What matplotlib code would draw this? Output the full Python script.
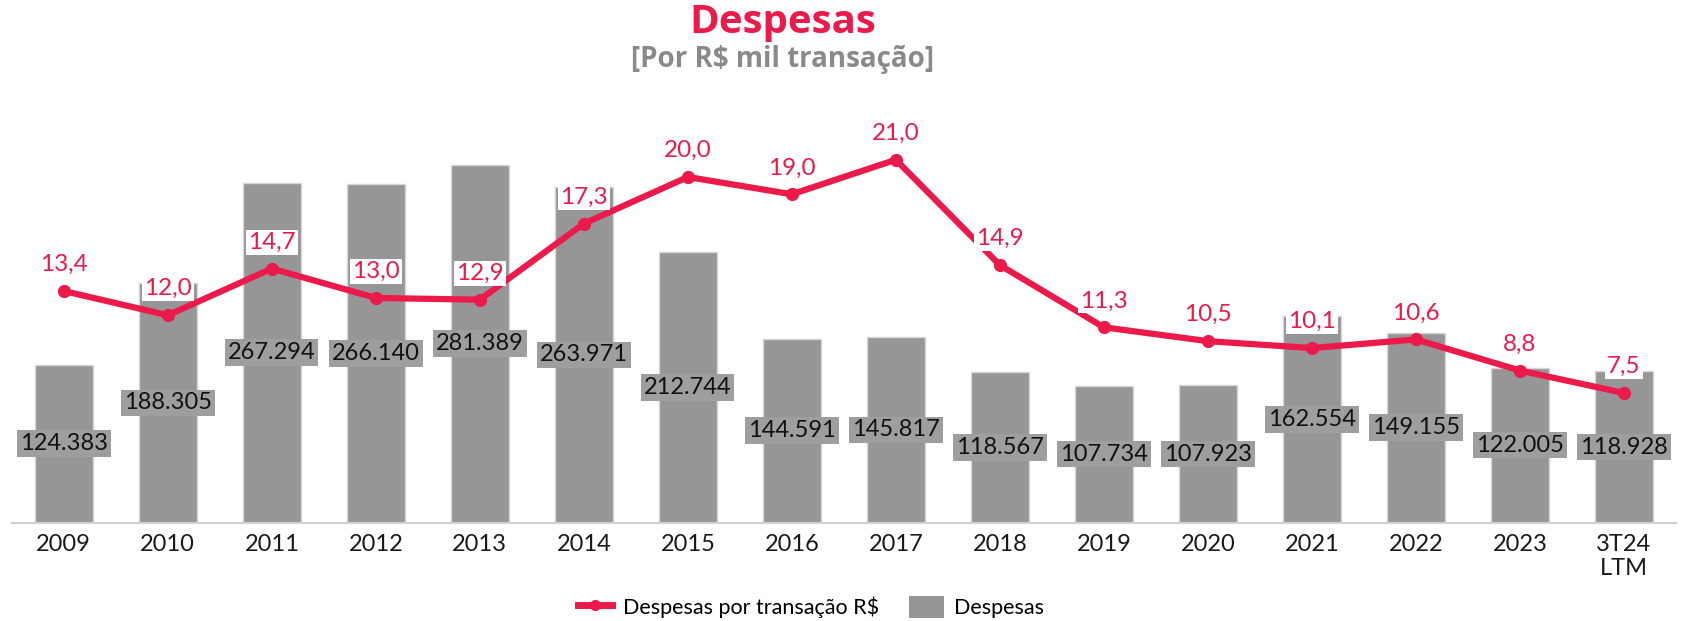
import matplotlib
matplotlib.use("Agg")
import matplotlib.pyplot as plt
from matplotlib.lines import Line2D
from matplotlib.patches import Patch

categories = ["2009", "2010", "2011", "2012", "2013", "2014", "2015", "2016",
              "2017", "2018", "2019", "2020", "2021", "2022", "2023", "3T24\nLTM"]
despesas = [124383, 188305, 267294, 266140, 281389, 263971, 212744, 144591,
            145817, 118567, 107734, 107923, 162554, 149155, 122005, 118928]
por_transacao = [13.4, 12.0, 14.7, 13.0, 12.9, 17.3, 20.0, 19.0,
                 21.0, 14.9, 11.3, 10.5, 10.1, 10.6, 8.8, 7.5]

PINK = "#EC1A4B"
GRAY = "#969696"
FONT = ["Lato", "DejaVu Sans"]

fig = plt.figure(figsize=(16.86, 6.21), dpi=100)
ax = fig.add_axes([0.007, 0.1585, 0.987, 0.6956])
ax2 = ax.twinx()

x = list(range(len(categories)))
ax.bar(x, despesas, width=0.56, color=GRAY, edgecolor="#D6D6D6", linewidth=1, zorder=1)
ax.set_ylim(0, 340000)
ax.set_xlim(-0.5, len(categories) - 0.5)

for xi, v in zip(x, despesas):
    ax.text(xi, v / 2, f"{v:,}".replace(",", "."), ha="center", va="center",
            fontsize=17, family=FONT, color="#111111", zorder=3,
            bbox=dict(boxstyle="square,pad=0.12", fc="#9E9E9E", ec="none"))

ax2.plot(x, por_transacao, color=PINK, lw=4.5, marker="o", ms=8.5, zorder=5,
         solid_capstyle="round")
ax2.set_ylim(0, 25)
for xi, v in zip(x, por_transacao):
    ax2.annotate(f"{v:.1f}".replace(".", ","), (xi, v), xytext=(0, 19),
                 textcoords="offset points", ha="center", va="center",
                 fontsize=17.5, family=FONT, color=PINK, zorder=6,
                 bbox=dict(boxstyle="square,pad=0.08", fc="white", ec="none"))

for a in (ax, ax2):
    for s in ("top", "right", "left"):
        a.spines[s].set_visible(False)
    a.set_yticks([])
ax2.spines["bottom"].set_visible(False)
ax.spines["bottom"].set_color("#D0D0D0")
ax.spines["bottom"].set_linewidth(1.5)
ax.set_xticks(x)
ax.set_xticklabels(categories, fontsize=17, family=FONT, color="#1A1A1A")
ax.tick_params(axis="x", length=0, pad=8)
ax.set_zorder(ax2.get_zorder() - 1)
ax.patch.set_visible(False)

fig.text(0.464, 0.963, "Despesas", ha="center", va="center", fontsize=29,
         fontweight="bold", family=["Open Sans", "DejaVu Sans"], color=PINK)
fig.text(0.464, 0.904, "[Por R$ mil transação]", ha="center", va="center",
         fontsize=20, fontweight="bold", family=["Open Sans", "DejaVu Sans"], color="#8A8A8A")

handles = [Line2D([0], [0], color=PINK, lw=5, marker="o", ms=7),
           Patch(facecolor=GRAY, edgecolor="none")]
fig.legend(handles, ["Despesas por transação R$", "Despesas"], loc="center",
           bbox_to_anchor=(0.481, 0.023), ncol=2, frameon=False,
           prop=dict(family=FONT, size=15.5), handlelength=1.6, handleheight=1.2,
           columnspacing=1.4, handletextpad=0.5)

fig.savefig("out.png", dpi=100)
